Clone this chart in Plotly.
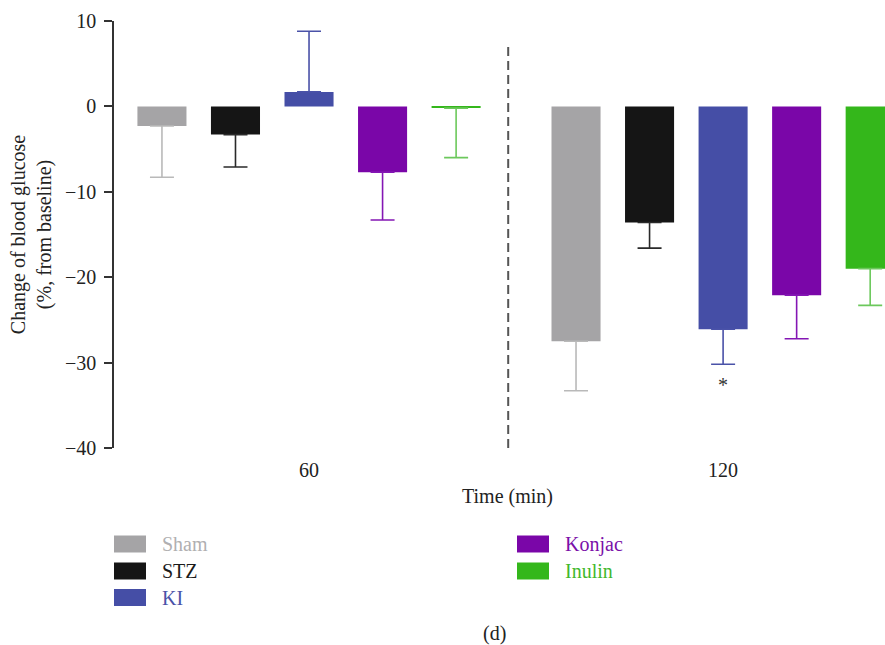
import plotly.graph_objects as go

# ---------------- data ----------------
time_points = ["60", "120"]
groups = ["Sham", "STZ", "KI", "Konjac", "Inulin"]
mean_change = {
    "Sham":   [-2.3, -27.5],
    "STZ":    [-3.3, -13.6],
    "KI":     [1.7, -26.1],
    "Konjac": [-7.7, -22.1],
    "Inulin": [-0.2, -19.0],
}
err_size = {
    "Sham":   [6.0, 5.8],
    "STZ":    [3.8, 3.0],
    "KI":     [7.1, 4.1],
    "Konjac": [5.6, 5.1],
    "Inulin": [5.8, 4.3],
}
y_ticks = [-40, -30, -20, -10, 0, 10]
sig_marks = [(1, -32.2, "*")]  # (time point index, y, text) – KI at 120 min

# ---------------- styles ----------------
bar_colors = ["#a5a4a6", "#151515", "#454ea6", "#7a06a8", "#34b71b"]
err_colors = ["#b9b9b9", "#2a2a2a", "#4a52a8", "#8416b4", "#6cc85c"]
text_colors = ["#b0afb1", "#1a1a1a", "#4a52a8", "#7a10a8", "#3fb82c"]
FONT = "Liberation Serif"

W, H = 885, 645
ML, MR, MT, MB = 114, 0, 21, 197
PW, PH = W - ML - MR, H - MT - MB


def px_x(px):
    return (px - ML) / PW


def px_y(py):
    return (H - MB - py) / PH


fig = go.Figure()
for i, g in enumerate(groups):
    vals = mean_change[g]
    errs = err_size[g]
    plus = [e if v >= 0 else 0 for v, e in zip(vals, errs)]
    minus = [e if v < 0 else 0 for v, e in zip(vals, errs)]
    fig.add_trace(go.Bar(
        x=time_points, y=vals, name=g,
        marker=dict(color=bar_colors[i], line=dict(width=0)),
        error_y=dict(type="data", symmetric=False, array=plus, arrayminus=minus,
                     color=err_colors[i], thickness=1.6, width=12),
        showlegend=False,
    ))

fig.update_layout(
    width=W, height=H,
    margin=dict(l=ML, r=MR, t=MT, b=MB, pad=0),
    paper_bgcolor="white", plot_bgcolor="white",
    barmode="group", bargap=0.112, bargroupgap=0.333,
    font=dict(family=FONT, size=20, color="#222"),
)
fig.update_xaxes(
    type="category", range=[-0.471, 1.391],
    showline=False, showgrid=False, zeroline=False, ticks="",
    tickfont=dict(size=20, color="#222"), ticklabelstandoff=8,
)
fig.update_yaxes(
    range=[-40, 10], tickvals=y_ticks,
    ticktext=[str(t).replace("-", "\u2212") for t in y_ticks],
    showline=True, linecolor="#333", linewidth=1.5,
    ticks="outside", ticklen=8, tickcolor="#333", tickwidth=1.5,
    showgrid=False, zeroline=False, ticklabelstandoff=4,
    tickfont=dict(size=20, color="#222"),
    title=dict(text="Change of blood glucose<br>(%, from baseline)",
               font=dict(size=20, color="#222"), standoff=8),
)

# dashed separator between time points
fig.add_shape(type="line", xref="x", yref="y", x0=0.481, x1=0.481, y0=-40, y1=7.4,
              line=dict(color="#555", width=2, dash="9px,5px"))

# significance marks
for xi, yv, txt in sig_marks:
    fig.add_annotation(x=xi, y=yv, xref="x", yref="y", text=txt, showarrow=False,
                       xanchor="center", yanchor="middle",
                       font=dict(size=20, color="#333"), yshift=-4)

# axis title and panel label
fig.add_annotation(x=px_x(507), y=px_y(497), xref="paper", yref="paper",
                   text="Time (min)", showarrow=False, xanchor="center", yanchor="middle",
                   font=dict(size=20, color="#222"))
fig.add_annotation(x=px_x(494), y=px_y(633), xref="paper", yref="paper",
                   text="(d)", showarrow=False, xanchor="center", yanchor="middle",
                   font=dict(size=20, color="#222"))

# legend (two columns)
legend_cols = [114, 517]
legend_rows = [544, 571, 597.5]
for i, g in enumerate(groups):
    col = 0 if i < 3 else 1
    row = i if i < 3 else i - 3
    x0 = legend_cols[col]
    cy = legend_rows[row]
    fig.add_shape(type="rect", xref="paper", yref="paper",
                  x0=px_x(x0), x1=px_x(x0 + 32), y0=px_y(cy + 8.5), y1=px_y(cy - 8.5),
                  fillcolor=bar_colors[i], line=dict(width=0))
    fig.add_annotation(x=px_x(x0 + 46), y=px_y(cy), xref="paper", yref="paper",
                       text=g, showarrow=False, xanchor="left", yanchor="middle",
                       font=dict(size=20, color=text_colors[i]))

fig.write_html("out.html")
